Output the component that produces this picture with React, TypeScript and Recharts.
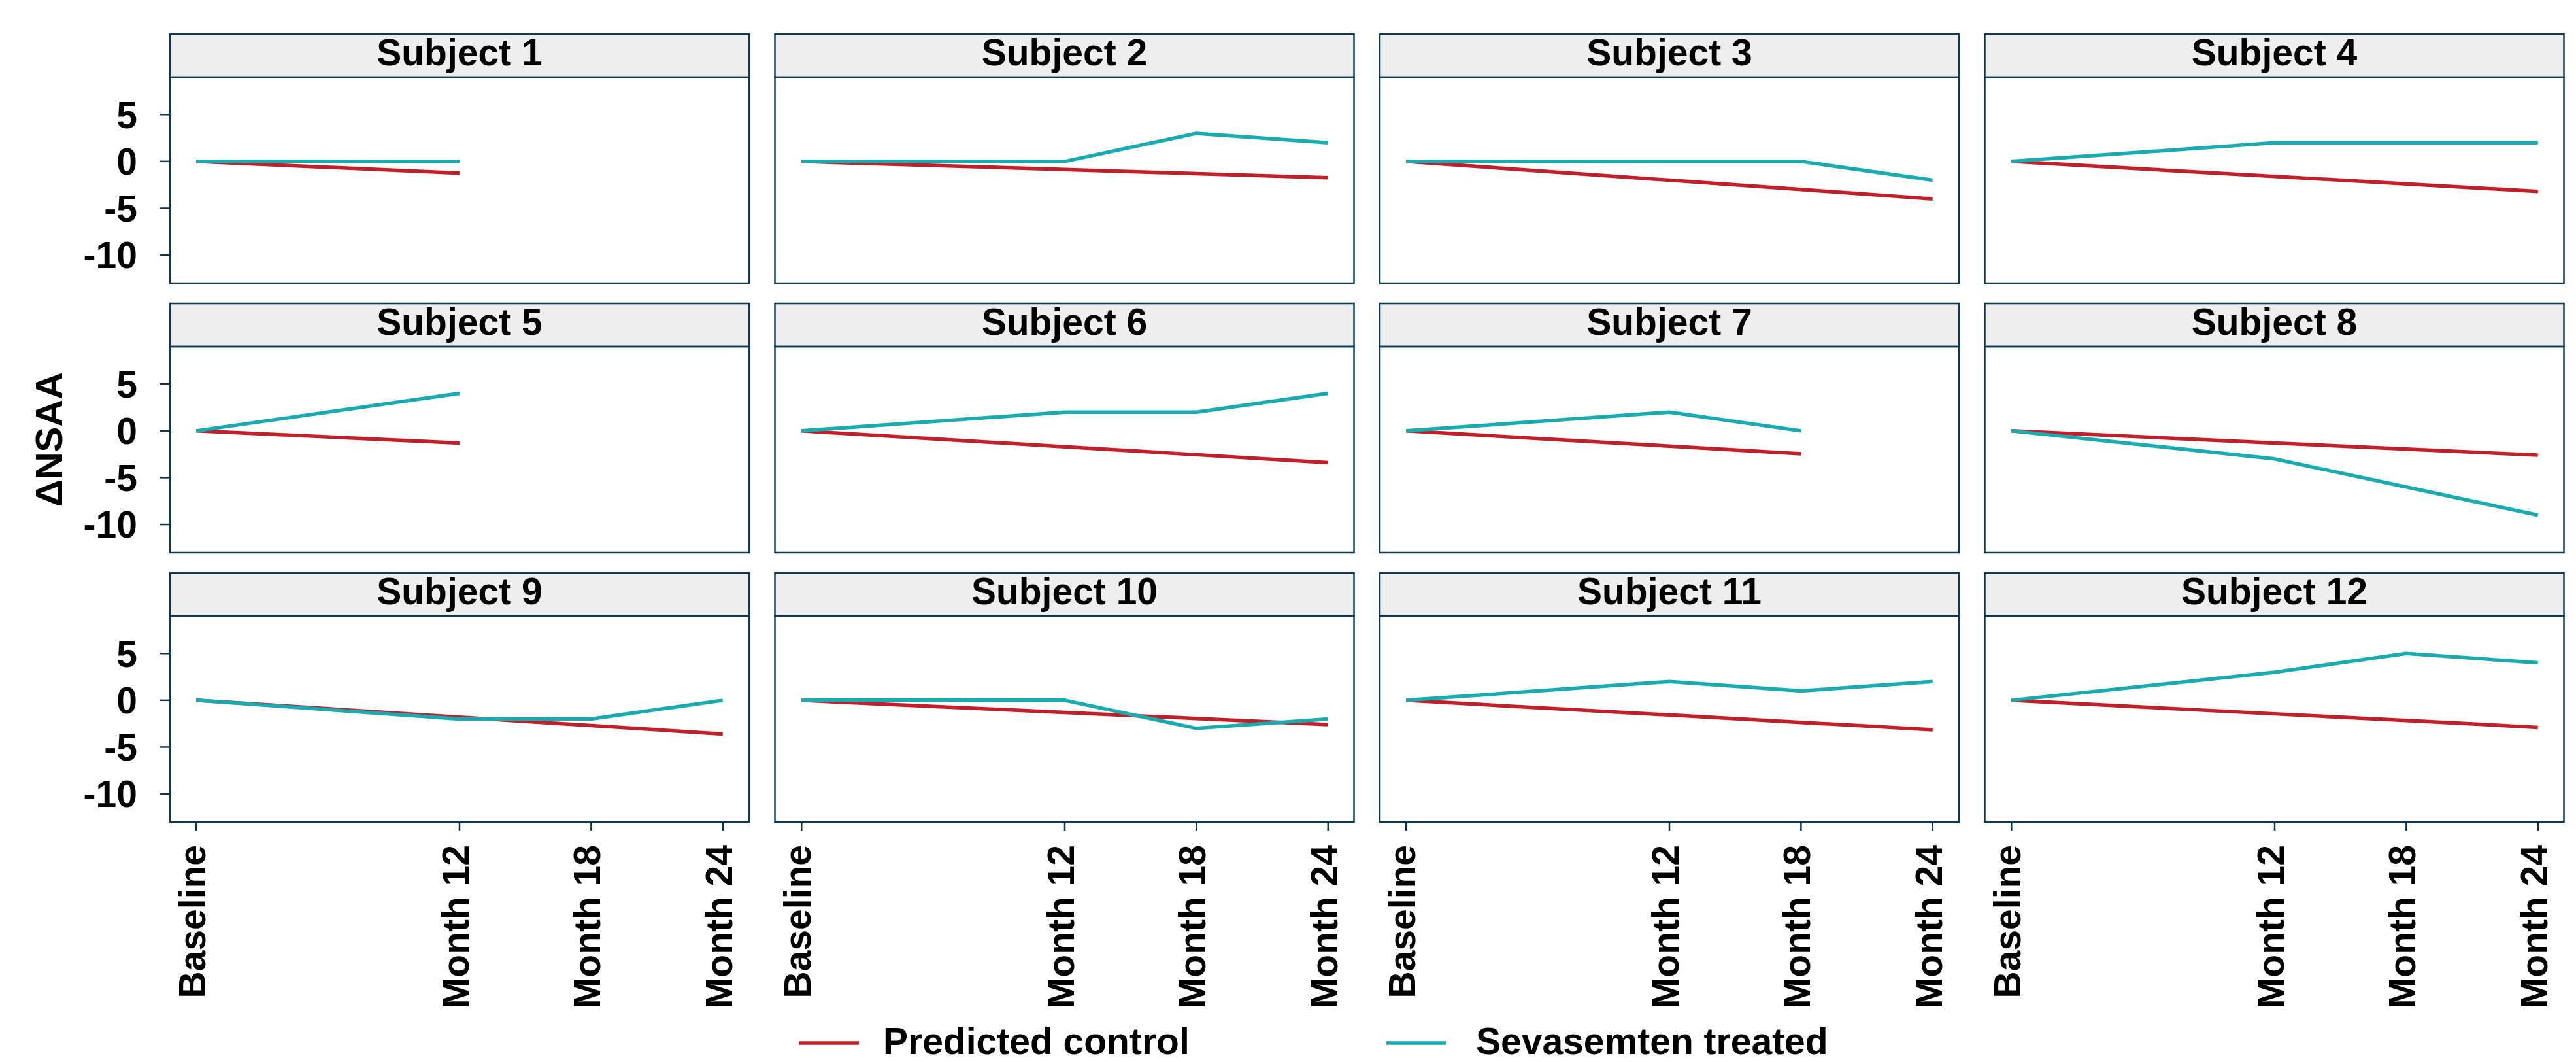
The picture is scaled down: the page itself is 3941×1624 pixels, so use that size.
import { LineChart, Line, XAxis, YAxis } from 'recharts';

const MONTHS = [0, 12, 18, 24];
const X_LABELS = ['Baseline', 'Month 12', 'Month 18', 'Month 24'];
const Y_TICKS = [-10, -5, 0, 5];
const SUBJECTS = [
  'Subject 1', 'Subject 2', 'Subject 3', 'Subject 4',
  'Subject 5', 'Subject 6', 'Subject 7', 'Subject 8',
  'Subject 9', 'Subject 10', 'Subject 11', 'Subject 12',
];

// predicted control per subject, one value per visit
const PREDICTED = [
  [0, -1.25],
  [0, -0.86, -1.3, -1.73],
  [0, -2, -3, -4],
  [0, -1.6, -2.4, -3.2],
  [0, -1.3],
  [0, -1.7, -2.55, -3.4],
  [0, -1.63, -2.45],
  [0, -1.3, -1.95, -2.6],
  [0, -1.8, -2.7, -3.6],
  [0, -1.3, -1.95, -2.6],
  [0, -1.57, -2.36, -3.15],
  [0, -1.45, -2.15, -2.9],
];

// sevasemten treated per subject
const TREATED = [
  [0, 0],
  [0, 0, 3, 2],
  [0, 0, 0, -2],
  [0, 2, 2, 2],
  [0, 4],
  [0, 2, 2, 4],
  [0, 2, 0],
  [0, -3, -6, -9],
  [0, -2, -2, 0],
  [0, 0, -3, -2],
  [0, 2, 1, 2],
  [0, 3, 5, 4],
];

const RED = '#C1202A';
const TEAL = '#1AABB0';
const NAVY = '#0D3A52';
const STRIP = '#EDEEED';
const FONT = '"Liberation Sans", Arial, sans-serif';

const COL_X = [260, 1185.5, 2111, 3036.5];
const PLOT_W = 886;
const PLOT_H = 315;
const ROW_STEP = 412;
const YW = 200;
const XH = 320;

function renderXTick(props: any) {
  const { x, y, payload } = props;
  const label = X_LABELS[MONTHS.indexOf(payload.value)];
  return (
    <text
      x={x}
      y={y}
      dy={14}
      transform={`rotate(-90, ${x}, ${y})`}
      textAnchor="end"
      fontSize={57}
      fontWeight={700}
      fontFamily={FONT}
      fill="#000"
    >
      {label}
    </text>
  );
}

function Panel({ idx }: { idx: number }) {
  const r = Math.floor(idx / 4);
  const c = idx % 4;
  const left = c === 0;
  const bottom = r === 2;
  const data = PREDICTED[idx].map((p, i) => ({
    month: MONTHS[i],
    predicted: p,
    treated: TREATED[idx][i],
  }));
  const w = PLOT_W + (left ? YW : 0);
  const h = PLOT_H + (bottom ? XH : 0);
  return (
    <div
      style={{
        position: 'absolute',
        left: COL_X[c] - (left ? YW : 0),
        top: 118 + r * ROW_STEP,
        width: w,
        height: h,
      }}
    >
      <LineChart width={w} height={h} data={data} margin={{ top: 0, right: 0, bottom: 0, left: 0 }}>
        <XAxis
          type="number"
          dataKey="month"
          domain={[-1.2, 25.2]}
          ticks={MONTHS}
          interval={0}
          hide={!bottom}
          height={XH}
          tickSize={13}
          tickMargin={22}
          axisLine={false}
          tickLine={{ stroke: NAVY, strokeWidth: 2.5 }}
          tick={renderXTick}
          allowDataOverflow
        />
        <YAxis
          type="number"
          domain={[-13, 9]}
          ticks={Y_TICKS}
          interval={0}
          hide={!left}
          width={YW}
          tickSize={15}
          tickMargin={35}
          axisLine={false}
          tickLine={{ stroke: NAVY, strokeWidth: 2.5 }}
          tick={{ fontSize: 57, fontWeight: 700, fill: '#000', fontFamily: FONT }}
          allowDataOverflow
        />
        <Line
          dataKey="predicted"
          type="linear"
          stroke={RED}
          strokeWidth={5.5}
          strokeLinejoin="round"
          dot={false}
          isAnimationActive={false}
        />
        <Line
          dataKey="treated"
          type="linear"
          stroke={TEAL}
          strokeWidth={5.5}
          strokeLinejoin="round"
          dot={false}
          isAnimationActive={false}
        />
      </LineChart>
    </div>
  );
}

export default function App() {
  return (
    <div
      style={{
        position: 'absolute',
        left: 0,
        top: 0,
        width: 3941,
        height: 1624,
        background: '#fff',
        overflow: 'hidden',
      }}
    >
      {SUBJECTS.map((_, i) => (
        <Panel key={i} idx={i} />
      ))}
      <svg
        width={3941}
        height={1624}
        style={{ position: 'absolute', left: 0, top: 0, pointerEvents: 'none' }}
        fontFamily={FONT}
      >
        {SUBJECTS.map((name, i) => {
          const r = Math.floor(i / 4);
          const x = COL_X[i % 4];
          const top = 52 + r * ROW_STEP;
          return (
            <g key={name}>
              <rect x={x} y={top} width={PLOT_W} height={66} fill={STRIP} stroke={NAVY} strokeWidth={2.5} />
              <rect x={x} y={top + 66} width={PLOT_W} height={PLOT_H} fill="none" stroke={NAVY} strokeWidth={2.5} />
              <text x={x + PLOT_W / 2} y={top + 48} textAnchor="middle" fontSize={57} fontWeight={700} fill="#000">
                {name}
              </text>
            </g>
          );
        })}
        <text
          transform="translate(95, 672) rotate(-90)"
          textAnchor="middle"
          fontSize={58}
          fontWeight={700}
          fill="#000"
        >
          ΔNSAA
        </text>
        <line x1={1222} x2={1314} y1={1595} y2={1595} stroke={RED} strokeWidth={5.5} />
        <text x={1351} y={1612} fontSize={57} fontWeight={700} fill="#000">
          Predicted control
        </text>
        <line x1={2121} x2={2212} y1={1595} y2={1595} stroke={TEAL} strokeWidth={5.5} />
        <text x={2258} y={1612} fontSize={57} fontWeight={700} fill="#000">
          Sevasemten treated
        </text>
      </svg>
    </div>
  );
}
